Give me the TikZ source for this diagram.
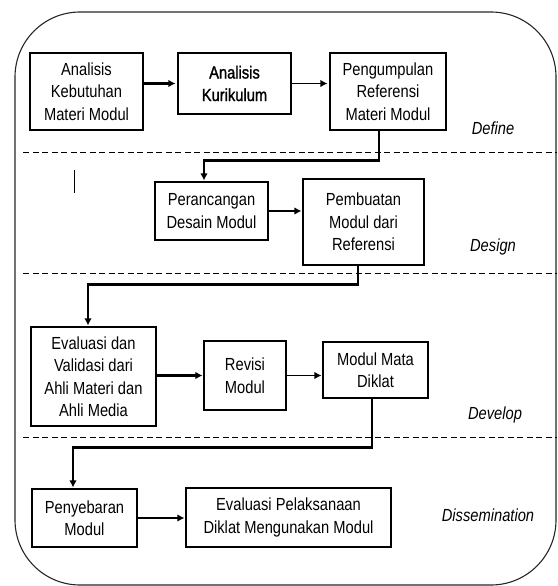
\documentclass[tikz,border=0pt]{standalone}
\usepackage{fontspec}
\setmainfont{Liberation Sans}[FakeStretch=0.84]
\usetikzlibrary{arrows.meta}
\tikzset{
  stepbox/.style={draw,line width=1.1pt,inner sep=0pt,align=center,
    font=\fontsize{17.5}{22.5}\selectfont},
  phase/.style={font=\fontsize{17.5}{22.5}\selectfont\itshape},
  flow/.style={line width=2.4pt},
  flowthin/.style={line width=1.8pt},
  sep/.style={line width=1pt,dash pattern=on 6pt off 3.5pt}
}
\begin{document}
\begin{tikzpicture}[x=1pt,y=-1pt,>={Latex[length=7pt,width=7.5pt]}]
\useasboundingbox (0,0) rectangle (557,586);
\draw[line width=1.1pt,black!85,rounded corners=65](15,12) rectangle (556,585);
% phase separators
\draw[sep](23,152)--(557,152);
\draw[sep](23,273)--(557,273);
\draw[sep](23,437)--(557,437);
\draw[line width=1pt](74,170)--(74,193);
% define
\node[stepbox,minimum width=113,minimum height=77](keb) at (86.5,91.5){Analisis\\Kebutuhan\\Materi Modul};
\node[stepbox,minimum width=113,minimum height=61,font=\fontsize{17.5}{22.5}\selectfont\addfontfeature{FakeBold=1.2}](kur) at (234.5,83.5){Analisis\\Kurikulum};
\node[stepbox,minimum width=116,minimum height=77](ref) at (388,91.5){Pengumpulan\\Referensi\\Materi Modul};
\node[phase](define) at (493,128){Define};
% design
\node[stepbox,minimum width=113,minimum height=58](ran) at (211.5,211){Perancangan\\Desain Modul};
\node[stepbox,minimum width=121,minimum height=86](buat) at (363.5,222){Pembuatan\\Modul dari\\Referensi};
\node[phase](design) at (493,247){Design};
% develop
\node[stepbox,minimum width=125,minimum height=99](eval) at (93.5,376.5){Evaluasi dan\\Validasi dari\\Ahli Materi dan\\Ahli Media};
\node[stepbox,minimum width=82,minimum height=69](rev) at (245,375.5){Revisi\\Modul};
\node[stepbox,minimum width=105,minimum height=56](mmd) at (375.5,370){Modul Mata\\Diklat};
\node[phase](develop) at (495,415){Develop};
% dissemination
\node[stepbox,minimum width=105,minimum height=58](sebar) at (84.5,518){Penyebaran\\Modul};
\node[stepbox,minimum width=205,minimum height=59](pel) at (288.5,517.5){Evaluasi Pelaksanaan\\Diklat Mengunakan Modul};
\node[phase](dissem) at (488,515){Dissemination};
% arrows
\draw[flow,->,shorten >=2pt](kur.west -| keb.east)--(kur.west);
\draw[flowthin,->,shorten >=2pt](kur.east)--(kur.east -| ref.west);
\draw[flow,->,shorten >=1pt]([xshift=-9]ref.south)--++(0,30)-|([xshift=-7.5]ran.north);
\draw[flowthin,->,shorten >=1pt](ran.east)--(ran.east -| buat.west);
\draw[flow,->,shorten >=1pt]([xshift=-5.5]buat.south)--++(0,19)-|([xshift=-5.5]eval.north);
\draw[flow,->,shorten >=1pt](rev.west -| eval.east)--(rev.west);
\draw[flowthin,->,shorten >=1pt](rev.east)--(rev.east -| mmd.west);
\draw[flow,->,shorten >=1pt]([xshift=-3.5]mmd.south)--++(0,49)-|([xshift=-11.5]sebar.north);
\draw[flow,->,shorten >=1pt](sebar.east)--(sebar.east -| pel.west);
\end{tikzpicture}
\end{document}
